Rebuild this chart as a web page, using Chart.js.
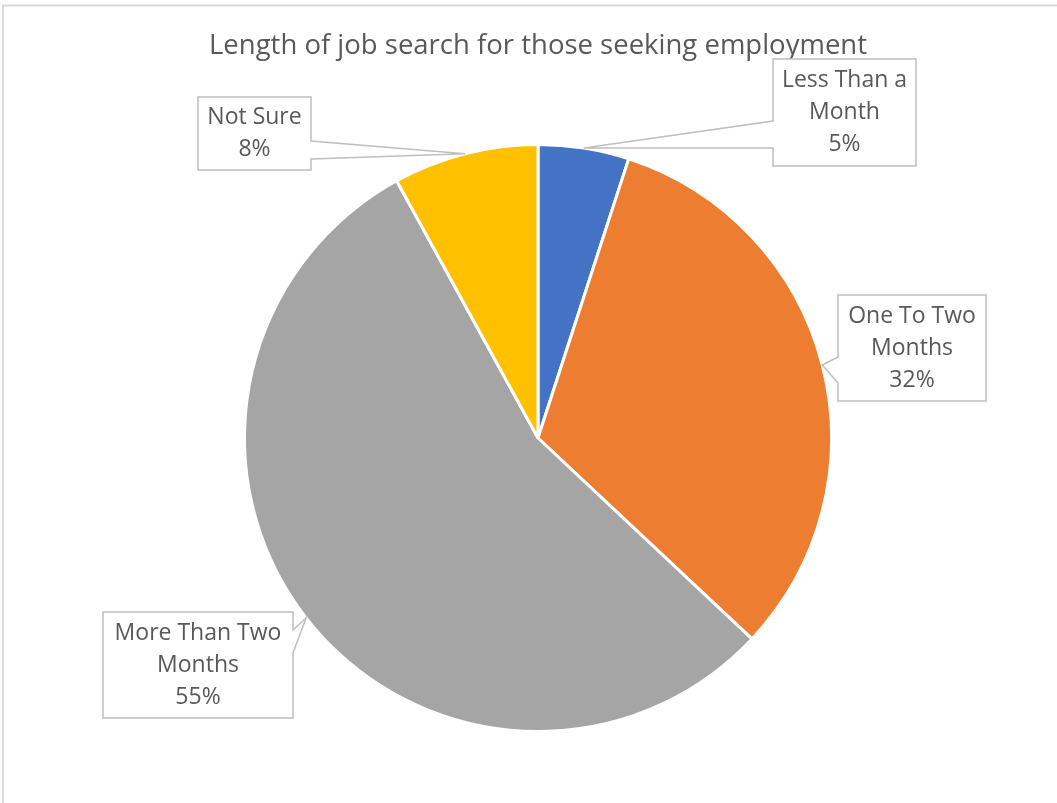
<!DOCTYPE html>
<html>
<head>
<meta charset="utf-8">
<script src="https://cdn.jsdelivr.net/npm/chart.js@4"></script>
<style>
  html, body { margin: 0; padding: 0; background: #ffffff; }
  #wrap { position: relative; width: 1057px; height: 803px; }
  canvas { display: block; }
</style>
</head>
<body>
<div id="wrap"><canvas id="c" width="1057" height="803"></canvas></div>
<script>
const titleText = "Length of job search for those seeking employment";
const categories = ["Less Than a Month", "One To Two Months", "More Than Two Months", "Not Sure"];
const values = [5, 32, 55, 8];
const labelLines = [["Less Than a", "Month"], ["One To Two", "Months"], ["More Than Two", "Months"], ["Not Sure"]];
const colors = ["#4472C4", "#ED7D31", "#A5A5A5", "#FFC000"];

// Callout box layout (x, y, w, h) and which side the pointer leaves from
const callouts = [
  { box: [773, 59, 143, 107], side: "left", base: [121, 148] },
  { box: [838, 295, 148, 106], side: "left", base: [357, 383] },
  { box: [103, 612, 190, 106], side: "right", base: [630, 653] },
  { box: [198, 97, 113, 73], side: "right", base: [141, 159] }
];

const FONT = "'Open Sans', sans-serif";

const frame = {
  id: "frame",
  beforeDraw(chart) {
    const ctx = chart.ctx;
    ctx.save();
    ctx.strokeStyle = "#D9D9D9";
    ctx.lineWidth = 2;
    ctx.beginPath();
    ctx.moveTo(3, 820);
    ctx.lineTo(3, 5.5);
    ctx.lineTo(1070, 5.5);
    ctx.stroke();
    ctx.fillStyle = "#595959";
    ctx.font = "27.5px " + FONT;
    ctx.textAlign = "center";
    ctx.textBaseline = "middle";
    ctx.fillText(titleText, 538, 46);
    ctx.restore();
  }
};

const calloutPlugin = {
  id: "callouts",
  afterDraw(chart) {
    const ctx = chart.ctx;
    const meta = chart.getDatasetMeta(0);
    const total = values.reduce((a, b) => a + b, 0);
    meta.data.forEach((arc, i) => {
      const mid = (arc.startAngle + arc.endAngle) / 2;
      const tx = arc.x + Math.cos(mid) * arc.outerRadius;
      const ty = arc.y + Math.sin(mid) * arc.outerRadius;
      const c = callouts[i];
      const [x, y, w, h] = c.box;
      ctx.save();
      ctx.beginPath();
      if (c.side === "left") {
        ctx.moveTo(x, y);
        ctx.lineTo(x + w, y);
        ctx.lineTo(x + w, y + h);
        ctx.lineTo(x, y + h);
        ctx.lineTo(x, c.base[1]);
        ctx.lineTo(tx, ty);
        ctx.lineTo(x, c.base[0]);
        ctx.closePath();
      } else {
        ctx.moveTo(x, y);
        ctx.lineTo(x + w, y);
        ctx.lineTo(x + w, c.base[0]);
        ctx.lineTo(tx, ty);
        ctx.lineTo(x + w, c.base[1]);
        ctx.lineTo(x + w, y + h);
        ctx.lineTo(x, y + h);
        ctx.closePath();
      }
      ctx.fillStyle = "#ffffff";
      ctx.fill();
      ctx.strokeStyle = "#BFBFBF";
      ctx.lineWidth = 1.5;
      ctx.stroke();
      const lines = labelLines[i].concat([Math.round(values[i] / total * 100) + "%"]);
      ctx.fillStyle = "#595959";
      ctx.font = "23px " + FONT;
      ctx.textAlign = "center";
      ctx.textBaseline = "middle";
      const lh = 32;
      const cy = y + h / 2;
      lines.forEach((t, k) => {
        ctx.fillText(t, x + w / 2, cy + (k - (lines.length - 1) / 2) * lh);
      });
      ctx.restore();
    });
  }
};

new Chart(document.getElementById("c"), {
  type: "pie",
  data: {
    labels: categories,
    datasets: [{
      data: values,
      backgroundColor: colors,
      borderColor: "#ffffff",
      borderWidth: 3
    }]
  },
  options: {
    responsive: false,
    animation: false,
    layout: { padding: { top: 143, bottom: 70, left: 243, right: 224 } },
    plugins: {
      legend: { display: false },
      title: { display: false },
      tooltip: { enabled: false }
    }
  },
  plugins: [frame, calloutPlugin]
});
</script>
</body>
</html>
